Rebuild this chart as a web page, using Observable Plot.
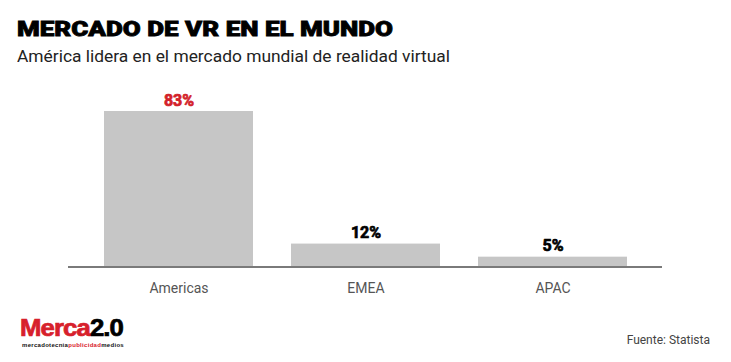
<!DOCTYPE html>
<html>
<head>
<meta charset="utf-8">
<script src="https://cdn.jsdelivr.net/npm/d3@7"></script>
<script src="https://cdn.jsdelivr.net/npm/@observablehq/plot@0.6"></script>
<style>
  html, body { margin: 0; padding: 0; background: #fff; }
  #wrap { width: 731px; height: 362px; position: relative; overflow: hidden; font-family: Roboto, "Noto Sans", sans-serif; }
  .abs { position: absolute; white-space: nowrap; transform-origin: 0 0; }
  #header { position: relative; height: 70px; }
  #footer { position: relative; height: 52px; }
  #title { left: 17px; top: 19px; font-family: Roboto, sans-serif; font-weight: 900; font-size: 21px; line-height: 21px; color: #000; -webkit-text-stroke: 0.8px #000; }
  #subtitle { left: 17px; top: 47.5px; font-size: 17px; line-height: 17px; color: #222; }
  #source { right: 21px; top: 24px; font-size: 12px; line-height: 12px; color: #444; }
  #logo { left: 20px; top: 7px; font-family: "Liberation Sans", Arial, sans-serif; font-size: 23px; line-height: 23px; font-weight: 700; letter-spacing: -0.8px; -webkit-text-stroke: 0.7px currentColor; }
  #logosub { left: 22px; top: 32px; font-family: "Liberation Sans", Arial, sans-serif; font-size: 6px; line-height: 6px; font-weight: 700; color: #111; }
  .red { color: #d7202b; }
</style>
</head>
<body>
<div id="wrap">
  <div id="header">
    <div id="title" class="abs">MERCADO DE VR EN EL MUNDO</div>
    <div id="subtitle" class="abs">América lidera en el mercado mundial de realidad virtual</div>
  </div>
  <div id="chart"></div>
  <div id="footer">
    <div id="logo" class="abs"><span class="red">Merca</span><span>2.0</span></div>
    <div id="logosub" class="abs">mercadotecnia<span class="red">publicidad</span>medios</div>
    <div id="source" class="abs">Fuente: Statista</div>
  </div>
</div>
<script>
const categories = ["Americas", "EMEA", "APAC"];
const values = [83, 12, 5];
const valueLabels = ["83%", "12%", "5%"];
const labelColors = ["#d3222a", "#000000", "#000000"];

const data = categories.map((c, i) => ({cat: c, value: values[i], label: valueLabels[i], color: labelColors[i]}));

const chart = Plot.plot({
  width: 731,
  height: 240,
  marginLeft: 68,
  marginRight: 69,
  marginTop: 41,
  marginBottom: 44,
  style: {fontFamily: "Roboto, sans-serif", background: "transparent"},
  x: {domain: categories, paddingInner: 0.205, paddingOuter: 0.187, label: null},
  y: {domain: [0, 83], axis: null},
  color: {type: "identity"},
  marks: [
    Plot.barY(data, {x: "cat", y: "value", fill: "#c6c6c6"}),
    Plot.ruleY([0], {stroke: "#7a7a7a", strokeWidth: 2, dy: 0.5}),
    Plot.text(data, {x: "cat", y: "value", text: "label", fill: "color", stroke: "color", strokeWidth: 0.7, lineAnchor: "bottom", dy: -6, fontSize: 16, fontWeight: "bold", letterSpacing: 1.5}),
    Plot.axisX({tickSize: 0, tickPadding: 17, fontSize: 14, color: "#555", label: null})
  ]
});
document.getElementById("chart").appendChild(chart);

function fitScale(id, target) {
  const el = document.getElementById(id);
  const w = el.getBoundingClientRect().width;
  if (w > 0) el.style.transform = `scaleX(${target / w})`;
}
function fitSpacing(id, target) {
  const el = document.getElementById(id);
  const n = el.textContent.length;
  const w = el.getBoundingClientRect().width;
  if (w > 0 && n > 1) el.style.letterSpacing = ((target - w) / n) + "px";
}
fitScale("title", 376);
fitScale("subtitle", 433);
fitSpacing("logosub", 102);
fitScale("logo", 103);
</script>
</body>
</html>
